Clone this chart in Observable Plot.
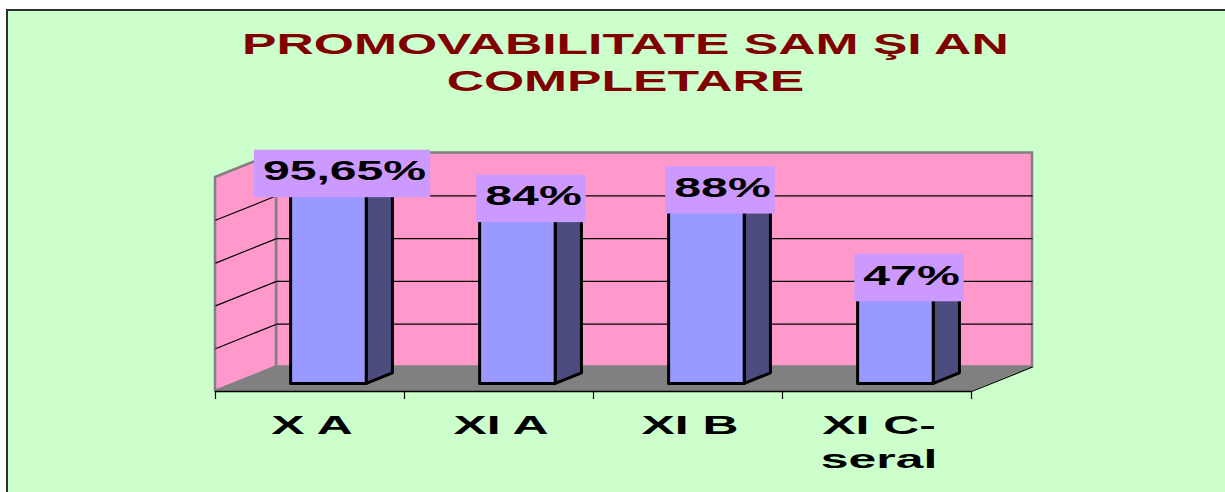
<!DOCTYPE html>
<html>
<head>
<meta charset="utf-8">
<script src="https://cdn.jsdelivr.net/npm/d3@7"></script>
<script src="https://cdn.jsdelivr.net/npm/@observablehq/plot@0.6"></script>
<style>
  html, body { margin: 0; padding: 0; background: #ffffff; width: 1225px; height: 492px; overflow: hidden; }
  #frame {
    position: absolute; left: 6px; top: 9px; width: 1230px; height: 500px;
    background: #CCFFCC; border-left: 2px solid #303030; border-top: 2px solid #303030;
  }
  #title { height: 100px; box-sizing: border-box; padding-top: 14.5px; width: 1217px; }
  .tl { text-align: center; height: 37px; line-height: 37px; margin-left: 17px;
        font-family: "Liberation Sans", Arial, sans-serif; font-weight: bold; font-size: 29px; color: #800000; }
  .tl span { display: inline-block; transform: scaleX(1.78); transform-origin: center; white-space: pre; }
  #chart svg { display: block; }
</style>
</head>
<body>
<div id="frame">
  <div id="title">
    <div class="tl"><span>PROMOVABILITATE SAM ŞI AN</span></div>
    <div class="tl"><span>COMPLETARE</span></div>
  </div>
  <div id="chart"></div>
</div>
<script>
// ---- data ----
const categories = ["X A", "XI A", "XI B", "XI C-\nseral"];
const values = [95.65, 84, 88, 47];
const valueLabels = ["95,65%", "84%", "88%", "47%"];
const gridTicks = [20, 40, 60, 80];
const catBounds = [0, 1, 2, 3, 4];

// ---- oblique 3D projection expressed in data units ----
const DX = 0.3228;   // depth shift along x (category units)
const DY = 11.45;    // depth shift along y (percent units)
const dFront = 0.31, dBack = 0.74, dMid = (dFront + dBack) / 2;
const barL = 0.3, barR = 0.7;
const nCat = categories.length;
const yMax = 100;

const wallData = [{ x1: DX, x2: nCat + DX, y1: DY, y2: yMax + DY }];
const sideWallData = [{ x: 0, y1: 0, y2: yMax }, { x: DX, y1: DY, y2: yMax + DY }];
const floorData = [{ y: 0, x1: 0, x2: nCat }, { y: DY, x1: DX, x2: nCat + DX }];
const backGrid = gridTicks.map(v => ({ x1: DX, x2: nCat + DX, y1: v + DY, y2: v + DY }));
const sideGrid = gridTicks.map(v => ({ x1: 0, x2: DX, y1: v, y2: v + DY }));
const edgeLines = [
  { x1: nCat, y1: 0, x2: nCat + DX, y2: DY, w: 1.2 },   // floor right edge
  { x1: 0, y1: 0, x2: nCat, y2: 0, w: 1.5 }               // axis line
];

const sideData = values.flatMap((v, i) => [dFront, dBack].map(d => ({
  cat: i, x: i + barR + d * DX, y1: d * DY, y2: v + d * DY
})));
const topData = values.flatMap((v, i) => [dFront, dBack].map(d => ({
  cat: i, y: v + d * DY, x1: i + barL + d * DX, x2: i + barR + d * DX
})));
const frontData = values.map((v, i) => ({
  x1: i + barL + dFront * DX, x2: i + barR + dFront * DX, y1: dFront * DY, y2: v + dFront * DY
}));
const labelData = values.map((v, i) => ({ x: i + 0.5 + dMid * DX, y: v + dMid * DY, t: valueLabels[i] }));
const catData = categories.map((c, i) => ({ x: i + 0.5, y: 0, t: c }));

const chart = Plot.plot({
  width: 1217, height: 381,
  marginTop: 0, marginLeft: 0, marginRight: 0, marginBottom: 101,
  x: { domain: [0, nCat], range: [207, 963] },
  y: { domain: [0, yMax], range: [280, 66], axis: null },
  style: { background: "transparent", fontFamily: "'Liberation Sans', Arial, sans-serif", overflow: "visible" },
  marks: [
    Plot.rect(wallData, { x1: "x1", x2: "x2", y1: "y1", y2: "y2", fill: "#FF99CC", stroke: "#808080", strokeWidth: 2.5 }),
    Plot.areaY(sideWallData, { x: "x", y1: "y1", y2: "y2", fill: "#FF99CC", stroke: "#808080", strokeWidth: 2.5 }),
    Plot.link(backGrid, { x1: "x1", x2: "x2", y1: "y1", y2: "y2", stroke: "black", strokeWidth: 1.2 }),
    Plot.link(sideGrid, { x1: "x1", x2: "x2", y1: "y1", y2: "y2", stroke: "black", strokeWidth: 1.2 }),
    Plot.areaX(floorData, { y: "y", x1: "x1", x2: "x2", fill: "#808080" }),
    Plot.link(edgeLines, { x1: "x1", x2: "x2", y1: "y1", y2: "y2", stroke: "black", strokeWidth: "w" }),
    Plot.axisX({ ticks: catBounds, tickSize: 8, tickFormat: () => "", stroke: "black", strokeWidth: 1.2 }),
    // bars
    Plot.areaY(sideData, { x: "x", y1: "y1", y2: "y2", z: "cat", fill: "#4C4C7F", stroke: "black", strokeWidth: 3, strokeLinejoin: "round" }),
    Plot.areaX(topData, { y: "y", x1: "x1", x2: "x2", z: "cat", fill: "#9999FF", stroke: "black", strokeWidth: 3, strokeLinejoin: "round" }),
    Plot.rect(frontData, { x1: "x1", x2: "x2", y1: "y1", y2: "y2", fill: "#9999FF", stroke: "black", strokeWidth: 3, strokeLinejoin: "round" }),
    // value labels
    Plot.text(labelData, { x: "x", y: "y", text: "t", fontSize: 28, fontWeight: "bold", fill: "black",
      lineAnchor: "bottom", dx: 2.5, dy: 6.5 }),
    // category labels
    Plot.text(catData, { x: "x", y: "y", text: "t", fontSize: 26, fontWeight: "bold", fill: "black",
      lineAnchor: "top", lineHeight: 1.31, dx: 2, dy: 18.5 })
  ]
});

document.getElementById("chart").appendChild(chart);

// stretch text horizontally like the original rendering
function stretch(group, s, box) {
  if (!group) return;
  group.querySelectorAll("text").forEach(t => {
    let tr = t.getAttribute("transform");
    if (!tr) {
      const x = +t.getAttribute("x") || 0, y = +t.getAttribute("y") || 0;
      tr = `translate(${x},${y})`;
    }
    tr = tr + ` scale(${s},1)`;
    t.setAttribute("transform", tr);
    if (box) {
      const bb = t.getBBox();
      const r = document.createElementNS("http://www.w3.org/2000/svg", "rect");
      r.setAttribute("transform", tr);
      r.setAttribute("x", bb.x - 9 / s);
      r.setAttribute("width", bb.width + 13 / s);
      r.setAttribute("y", bb.y + 0.905 * 28 - 30.5);
      r.setAttribute("height", 47.5);
      r.setAttribute("fill", "#CC99FF");
      t.parentNode.insertBefore(r, t);
    }
  });
}
const textGroups = chart.querySelectorAll('g[aria-label="text"]');
stretch(textGroups[0], 1.72, true);
stretch(textGroups[1], 1.92, false);
</script>
</body>
</html>
